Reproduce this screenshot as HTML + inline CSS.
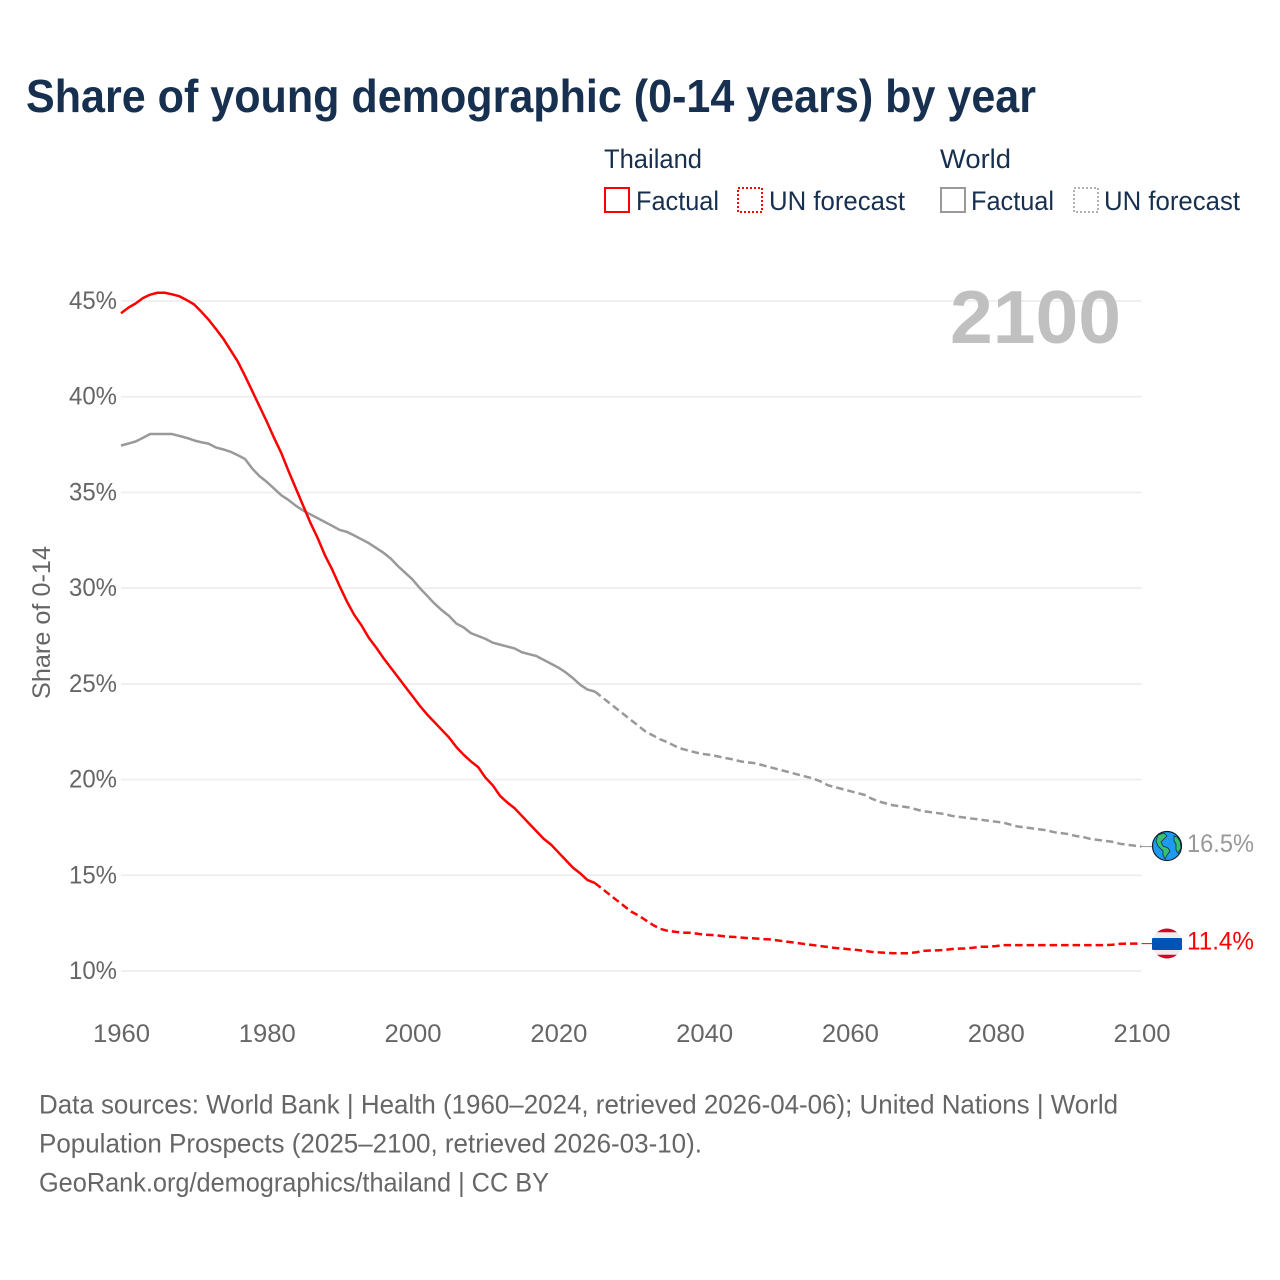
<!DOCTYPE html>
<html lang="en">
<head>
<meta charset="utf-8">
<title>Share of young demographic (0-14 years) by year</title>
<style>
  html, body { margin: 0; padding: 0; background: #fff; }
  svg { display: block; font-family: "Liberation Sans", sans-serif; }
</style>
</head>
<body>
<svg id="chart" xmlns="http://www.w3.org/2000/svg" width="1280" height="1280" viewBox="0 0 1280 1280">
  <rect x="0" y="0" width="1280" height="1280" fill="#ffffff"/>
  <text x="26" y="112" font-size="46" font-weight="700" fill="#17304f" textLength="1010" lengthAdjust="spacingAndGlyphs">Share of young demographic (0-14 years) by year</text>

  <g font-size="27" fill="#17304f">
    <text x="604" y="168" textLength="98" lengthAdjust="spacingAndGlyphs">Thailand</text>
    <text x="940" y="168" textLength="71" lengthAdjust="spacingAndGlyphs">World</text>
    <rect x="605" y="188" width="24" height="24" fill="none" stroke="#ff0000" stroke-width="2"/>
    <text x="636" y="210" textLength="83" lengthAdjust="spacingAndGlyphs">Factual</text>
    <rect x="738" y="188" width="24" height="24" fill="none" stroke="#ff0000" stroke-width="2" stroke-dasharray="2 2"/>
    <text x="769" y="210" textLength="136" lengthAdjust="spacingAndGlyphs">UN forecast</text>
    <rect x="941" y="188" width="24" height="24" fill="none" stroke="#999999" stroke-width="2"/>
    <text x="971" y="210" textLength="83" lengthAdjust="spacingAndGlyphs">Factual</text>
    <rect x="1074" y="188" width="24" height="24" fill="none" stroke="#999999" stroke-width="1.5" stroke-dasharray="2 2"/>
    <text x="1104" y="210" textLength="136" lengthAdjust="spacingAndGlyphs">UN forecast</text>
  </g>

  <g id="grid"></g>
  <g id="y-ticks" font-size="25" fill="#666666" text-anchor="end"></g>
  <g id="x-ticks" font-size="25" fill="#666666" text-anchor="middle"></g>
  <text transform="translate(50 622.500) rotate(-90)" font-size="25" fill="#666666" text-anchor="middle" textLength="153" lengthAdjust="spacingAndGlyphs">Share of 0-14</text>
  <text x="950" y="343" font-size="75" font-weight="700" fill="#c0c0c0" textLength="171" lengthAdjust="spacingAndGlyphs">2100</text>

  <g id="series"></g>

  <g id="world-marker">
    <circle cx="1167" cy="846" r="14.500" fill="#1e9bf0" stroke="#10202c" stroke-width="1.2"/>
    <path d="M1158 835 L1164 833 L1167 836 L1163 840 L1161 842 L1163 846 L1168 848 L1170 851 L1167 855 L1165 859 L1163 855 L1163 851 L1158 846 L1156 841 Z" fill="#38c172" stroke="#10202c" stroke-width="0.7"/>
    <path d="M1174 836 L1177 837 L1180 841 L1181 848 L1178 853 L1176 850 L1176 844 L1174 841 Z" fill="#38c172" stroke="#10202c" stroke-width="0.7"/>
  </g>
  <g id="thailand-marker">
    <circle cx="1167" cy="943.500" r="15" fill="#eeeeee"/>
    <path d="M1157 932.300 A15 15 0 0 1 1177 932.300 Z" fill="#d80027"/>
    <path d="M1157 954.700 A15 15 0 0 0 1177 954.700 Z" fill="#d80027"/>
    <rect x="1152" y="938" width="30" height="12" rx="1" fill="#0052b4"/>
  </g>
  <text x="1187" y="852" font-size="25" fill="#999999" textLength="67" lengthAdjust="spacingAndGlyphs">16.5%</text>
  <text x="1187" y="949.500" font-size="25" fill="#ff0000" textLength="67" lengthAdjust="spacingAndGlyphs">11.4%</text>

  <g font-size="27" fill="#666666">
    <text x="39" y="1113.500" textLength="1079" lengthAdjust="spacingAndGlyphs">Data sources: World Bank | Health (1960–2024, retrieved 2026-04-06); United Nations | World</text>
    <text x="39" y="1152.500" textLength="663" lengthAdjust="spacingAndGlyphs">Population Prospects (2025–2100, retrieved 2026-03-10).</text>
    <text x="39" y="1191.500" textLength="510" lengthAdjust="spacingAndGlyphs">GeoRank.org/demographics/thailand | CC BY</text>
  </g>
</svg>

<script>
const yTicks = [10, 15, 20, 25, 30, 35, 40, 45];
const xTicks = [1960, 1980, 2000, 2020, 2040, 2060, 2080, 2100];
const factualStartYear = 1960;
const forecastStartYear = 2025;

const thailandFactual = [
  44.36,44.65,44.87,45.15,45.33,45.43,45.43,45.35,45.25,45.05,
  44.83,44.45,44.03,43.55,43.05,42.45,41.85,41.1,40.3,39.5,
  38.7,37.85,37.05,36.1,35.2,34.3,33.4,32.6,31.7,30.95,
  30.1,29.3,28.6,28.05,27.4,26.9,26.35,25.85,25.35,24.85,
  24.35,23.85,23.4,23.0,22.6,22.2,21.7,21.3,20.95,20.65,
  20.1,19.7,19.15,18.8,18.5,18.1,17.7,17.3,16.9,16.6,
  16.2,15.8,15.4,15.1,14.75,14.6
];
const thailandForecast = [
  14.6,
  14.3,14.0,13.7,13.4,13.1,
  12.9,12.65,12.4,12.2,12.1,
  12.05,12.0,12.0,11.95,11.9,
  11.88,11.85,11.8,11.78,11.75,
  11.72,11.7,11.67,11.65,11.6,
  11.55,11.5,11.45,11.4,11.35,
  11.3,11.25,11.2,11.17,11.13,
  11.1,11.05,11.0,10.97,10.95,
  10.93,10.93,10.93,10.97,11.05,
  11.07,11.08,11.1,11.15,11.17,
  11.18,11.22,11.27,11.27,11.3,
  11.35,11.35,11.35,11.35,11.35,
  11.35,11.35,11.35,11.35,11.35,
  11.35,11.35,11.35,11.35,11.35,
  11.37,11.42,11.43,11.43,11.43
];
const worldFactual = [
  37.45,37.55,37.66,37.85,38.05,38.05,38.05,38.05,37.95,37.85,
  37.72,37.62,37.55,37.35,37.25,37.13,36.95,36.75,36.25,35.85,
  35.55,35.2,34.85,34.6,34.3,34.05,33.85,33.65,33.45,33.25,
  33.04,32.94,32.75,32.55,32.35,32.1,31.85,31.55,31.15,30.8,
  30.45,30.0,29.6,29.2,28.85,28.55,28.15,27.95,27.65,27.5,
  27.35,27.15,27.05,26.95,26.85,26.65,26.55,26.45,26.25,26.05,
  25.85,25.6,25.3,24.95,24.7,24.6
];
const worldForecast = [
  24.6,
  24.3,24.0,23.7,23.4,23.1,
  22.8,22.5,22.3,22.1,21.95,
  21.75,21.6,21.5,21.4,21.33,
  21.28,21.2,21.12,21.05,20.95,
  20.9,20.85,20.75,20.65,20.55,
  20.45,20.35,20.25,20.15,20.05,
  19.9,19.7,19.6,19.5,19.4,
  19.3,19.2,19.0,18.85,18.75,
  18.65,18.6,18.55,18.45,18.35,
  18.3,18.25,18.2,18.1,18.05,
  18.0,17.95,17.9,17.85,17.8,
  17.75,17.65,17.55,17.5,17.45,
  17.4,17.35,17.25,17.2,17.15,
  17.05,17.0,16.9,16.85,16.8,
  16.75,16.65,16.6,16.55,16.5
];

const SVG_NS = 'http://www.w3.org/2000/svg';
const xScale = function (year) { return 121 + (year - 1960) * (1020.5 / 140); };
const yScale = function (pct) { return 971 - (pct - 10) * (670 / 35); };

const gridGroup = document.getElementById('grid');
const yTickGroup = document.getElementById('y-ticks');
const xTickGroup = document.getElementById('x-ticks');
const seriesGroup = document.getElementById('series');

yTicks.forEach(function (tick) {
  const line = document.createElementNS(SVG_NS, 'line');
  
  
  line.setAttribute('x1', xScale(1960));
  line.setAttribute('x2', xScale(2100));
  line.setAttribute('y1', yScale(tick));
  line.setAttribute('y2', yScale(tick));
  line.setAttribute('stroke', '#eeeeee');
  line.setAttribute('stroke-width', '1.7');
  gridGroup.appendChild(line);

  const label = document.createElementNS(SVG_NS, 'text');
  
  
  label.setAttribute('x', 117);
  label.setAttribute('y', yScale(tick) + 8);
  label.setAttribute('textLength', '48');
  label.setAttribute('lengthAdjust', 'spacingAndGlyphs');
  label.textContent = tick + '%';
  yTickGroup.appendChild(label);
});

xTicks.forEach(function (tick) {
  const label = document.createElementNS(SVG_NS, 'text');
  
  
  label.setAttribute('x', xScale(tick) + 0.5);
  label.setAttribute('y', 1042);
  label.setAttribute('textLength', '57');
  label.setAttribute('lengthAdjust', 'spacingAndGlyphs');
  label.textContent = tick;
  xTickGroup.appendChild(label);
});

function pointsFor(values, startYear) {
  return values.map(function (value, i) {
    return xScale(startYear + i).toFixed(2) + ',' + yScale(value).toFixed(2);
  }).join(' ');
}

function drawSeries(name, values, startYear, color, dashed) {
  const line = document.createElementNS(SVG_NS, 'polyline');
  
  
  line.setAttribute('points', pointsFor(values, startYear));
  line.setAttribute('fill', 'none');
  line.setAttribute('stroke', color);
  line.setAttribute('stroke-width', '2.5');
  line.setAttribute('stroke-linejoin', 'round');
  if (dashed) {
    line.setAttribute('stroke-dasharray', '7.5 4');
  }
  seriesGroup.appendChild(line);
}

function drawConnector(name, lastValue, color) {
  const line = document.createElementNS(SVG_NS, 'line');
  
  
  line.setAttribute('x1', xScale(2100));
  line.setAttribute('x2', xScale(2100) + 11);
  line.setAttribute('y1', yScale(lastValue));
  line.setAttribute('y2', yScale(lastValue));
  line.setAttribute('stroke', color);
  line.setAttribute('stroke-width', '1');
  seriesGroup.appendChild(line);
}

drawSeries('world-factual-line', worldFactual, factualStartYear, '#999999', false);
drawSeries('world-forecast-line', worldForecast, forecastStartYear, '#999999', true);
drawSeries('thailand-factual-line', thailandFactual, factualStartYear, '#ff0000', false);
drawSeries('thailand-forecast-line', thailandForecast, forecastStartYear, '#ff0000', true);
drawConnector('world-end-connector', worldForecast[worldForecast.length - 1], '#999999');
drawConnector('thailand-end-connector', thailandForecast[thailandForecast.length - 1], '#ff0000');
</script>
</body>
</html>
